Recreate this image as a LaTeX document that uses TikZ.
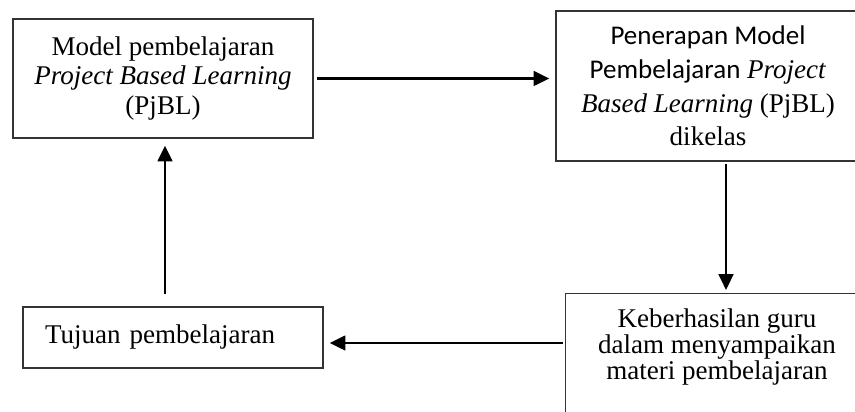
\documentclass[tikz,border=0pt]{standalone}
\usepackage{fontspec}
\setmainfont{Liberation Serif}
\newfontfamily\calibri{Carlito}
\usetikzlibrary{arrows.meta}
\newcommand{\px}{0.444pt}

\tikzset{
  box/.style={draw=black!80, line width=0.6pt, rectangle, inner sep=0pt, align=center, font=\fontsize{12}{13.3}\selectfont},
  arr/.style={line width=1.2pt, -{Triangle[length=7pt,width=6.5pt]}},
}

\begin{document}
\begin{tikzpicture}[x=\px,y=\px,yscale=-1]
\useasboundingbox (0,0) rectangle (855,412);

% Boxes
\node[box, minimum width=300*\px, minimum height=119*\px] (mdl) at (163,78.5) {Model pembelajaran\\ \textit{Project Based Learning}\\ (PjBL)};
\node[box, minimum width=304*\px, minimum height=150*\px, font=\fontsize{12}{14.9}\selectfont] (pen) at (708,86) {{\calibri Penerapan Model}\\ {\calibri Pembelajaran} \textit{Project}\\ \textit{Based Learning} (PjBL)\\ dikelas};
\node[box, minimum width=304*\px, minimum height=130*\px, anchor=north west] (kbh) at (565,293) {};
\node[align=center, inner sep=0pt, font=\fontsize{12}{11.6}\selectfont] (kbhtxt) at (717,347) {Keberhasilan guru\\ dalam menyampaikan\\ materi pembelajaran};
\node[box, text width=256*\px, inner xsep=22*\px, minimum height=61*\px, align=left] (tuj) at (173,337.5) {Tujuan pembelajaran};

% Arrows
\draw[arr, shorten <=3*\px, shorten >=6*\px] (mdl.east) -- (mdl.east -| pen.west);
\draw[arr, shorten <=2*\px, shorten >=3*\px] ([xshift=18*\px]pen.south) -- ([xshift=18*\px]pen.south |- kbh.north);
\draw[arr, shorten <=2*\px, shorten >=6*\px] ([yshift=5.5*\px]tuj.east -| kbh.west) -- ([yshift=5.5*\px]tuj.east);
\draw[arr, shorten <=12*\px, shorten >=7*\px] ([xshift=2*\px]mdl.south |- tuj.north) -- ([xshift=2*\px]mdl.south);

\end{tikzpicture}
\end{document}
